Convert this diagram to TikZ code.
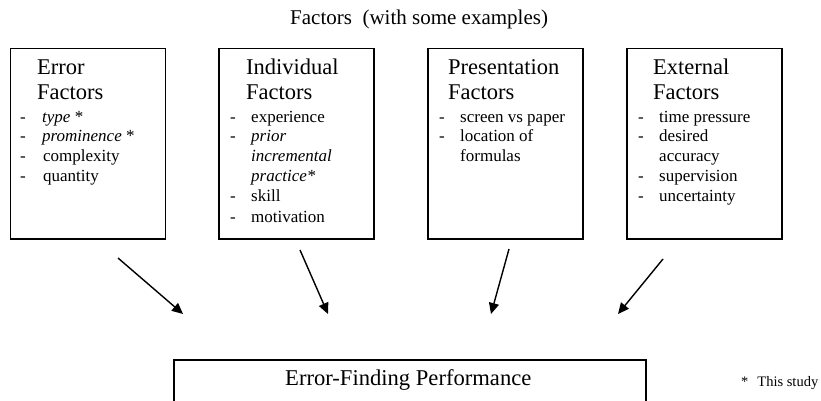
\documentclass[tikz,border=0pt]{standalone}
\usepackage{fontspec}
\setmainfont{Liberation Serif}
\usetikzlibrary{arrows.meta}

\tikzset{
  factorbox/.style={draw, line width=1.5pt, rectangle, inner sep=0pt,
    minimum width=155pt, minimum height=190pt, anchor=north west},
  headtext/.style={anchor=base west, inner sep=0pt, font=\fontsize{22.5}{25}\selectfont},
  itemtext/.style={anchor=base west, inner sep=0pt, font=\fontsize{17}{20}\selectfont},
  flow/.style={line width=1.4pt, -{Triangle[length=11pt, width=10pt]}},
}

\newcommand{\itemrow}[5]{%
  % #1 name, #2 dash x, #3 text x, #4 baseline y, #5 text
  \node[itemtext] (#1d) at (#2,#4) {-};
  \node[itemtext] (#1) at (#3,#4) {#5};
}

\begin{document}
\begin{tikzpicture}[x=1pt, y=-1pt]
  \useasboundingbox (0,0) rectangle (821,401);
  \clip (0,0) rectangle (821,401);

  % heading
  \node[anchor=base west, inner sep=0pt, font=\fontsize{21}{24}\selectfont]
    (title) at (290,25) {Factors\ \ (with some examples)};

  % the four factor groups
  \node[factorbox] (err) at (9.5,48) {};
  \node[factorbox] (ind) at (218,48) {};
  \node[factorbox] (pres) at (427,48) {};
  \node[factorbox] (ext) at (626,48) {};

  % Error Factors
  \node[headtext] (errh1) at (37,75) {Error};
  \node[headtext] (errh2) at (37,100) {Factors};
  \itemrow{e1}{20}{42}{122}{\textit{type} *}
  \itemrow{e2}{20}{42}{141}{\textit{prominence} *}
  \itemrow{e3}{20}{43}{161}{complexity}
  \itemrow{e4}{20}{43}{181}{quantity}

  % Individual Factors
  \node[headtext] (indh1) at (246,75) {Individual};
  \node[headtext] (indh2) at (246,100) {Factors};
  \itemrow{i1}{230}{251}{122}{experience}
  \itemrow{i2}{230}{251}{141}{\textit{prior}}
  \node[itemtext] (i3) at (251,161) {\textit{incremental}};
  \node[itemtext] (i4) at (251,181) {\textit{practice*}};
  \itemrow{i5}{230}{251}{201}{skill}
  \itemrow{i6}{230}{251}{222}{motivation}

  % Presentation Factors
  \node[headtext] (presh1) at (448,75) {Presentation};
  \node[headtext] (presh2) at (448,100) {Factors};
  \itemrow{p1}{439}{460}{122}{screen vs paper}
  \itemrow{p2}{439}{460}{141}{location of}
  \node[itemtext] (p3) at (460,161) {formulas};

  % External Factors
  \node[headtext] (exth1) at (653,75) {External};
  \node[headtext] (exth2) at (653,100) {Factors};
  \itemrow{x1}{638}{659}{122}{time pressure}
  \itemrow{x2}{638}{659}{141}{desired}
  \node[itemtext] (x3) at (659,161) {accuracy};
  \itemrow{x4}{638}{659}{181}{supervision}
  \itemrow{x5}{638}{659}{201}{uncertainty}

  % outcome box, running off the lower edge
  \node[draw, line width=1.5pt, rectangle, inner sep=0pt, anchor=north west,
    minimum width=472pt, minimum height=60pt] (perf) at (173,359) {};
  \node[anchor=base west, inner sep=0pt, font=\fontsize{22.6}{25}\selectfont]
    (perft) at (285,385) {Error-Finding Performance};

  % arrow ends
  \coordinate (a1s) at (118,258); \coordinate (a1e) at (183,314);
  \coordinate (a2s) at (300,250); \coordinate (a2e) at (328,314);
  \coordinate (a3s) at (509,249); \coordinate (a3e) at (491,314);
  \coordinate (a4s) at (663,259); \coordinate (a4e) at (618,314);
  \draw[flow] (a1s) -- (a1e);
  \draw[flow] (a2s) -- (a2e);
  \draw[flow] (a3s) -- (a3e);
  \draw[flow] (a4s) -- (a4e);

  % footnote
  \node[anchor=base west, inner sep=0pt, font=\fontsize{14.5}{16}\selectfont]
    (note) at (741,386) {*\hspace{9pt}This study};
\end{tikzpicture}
\end{document}
